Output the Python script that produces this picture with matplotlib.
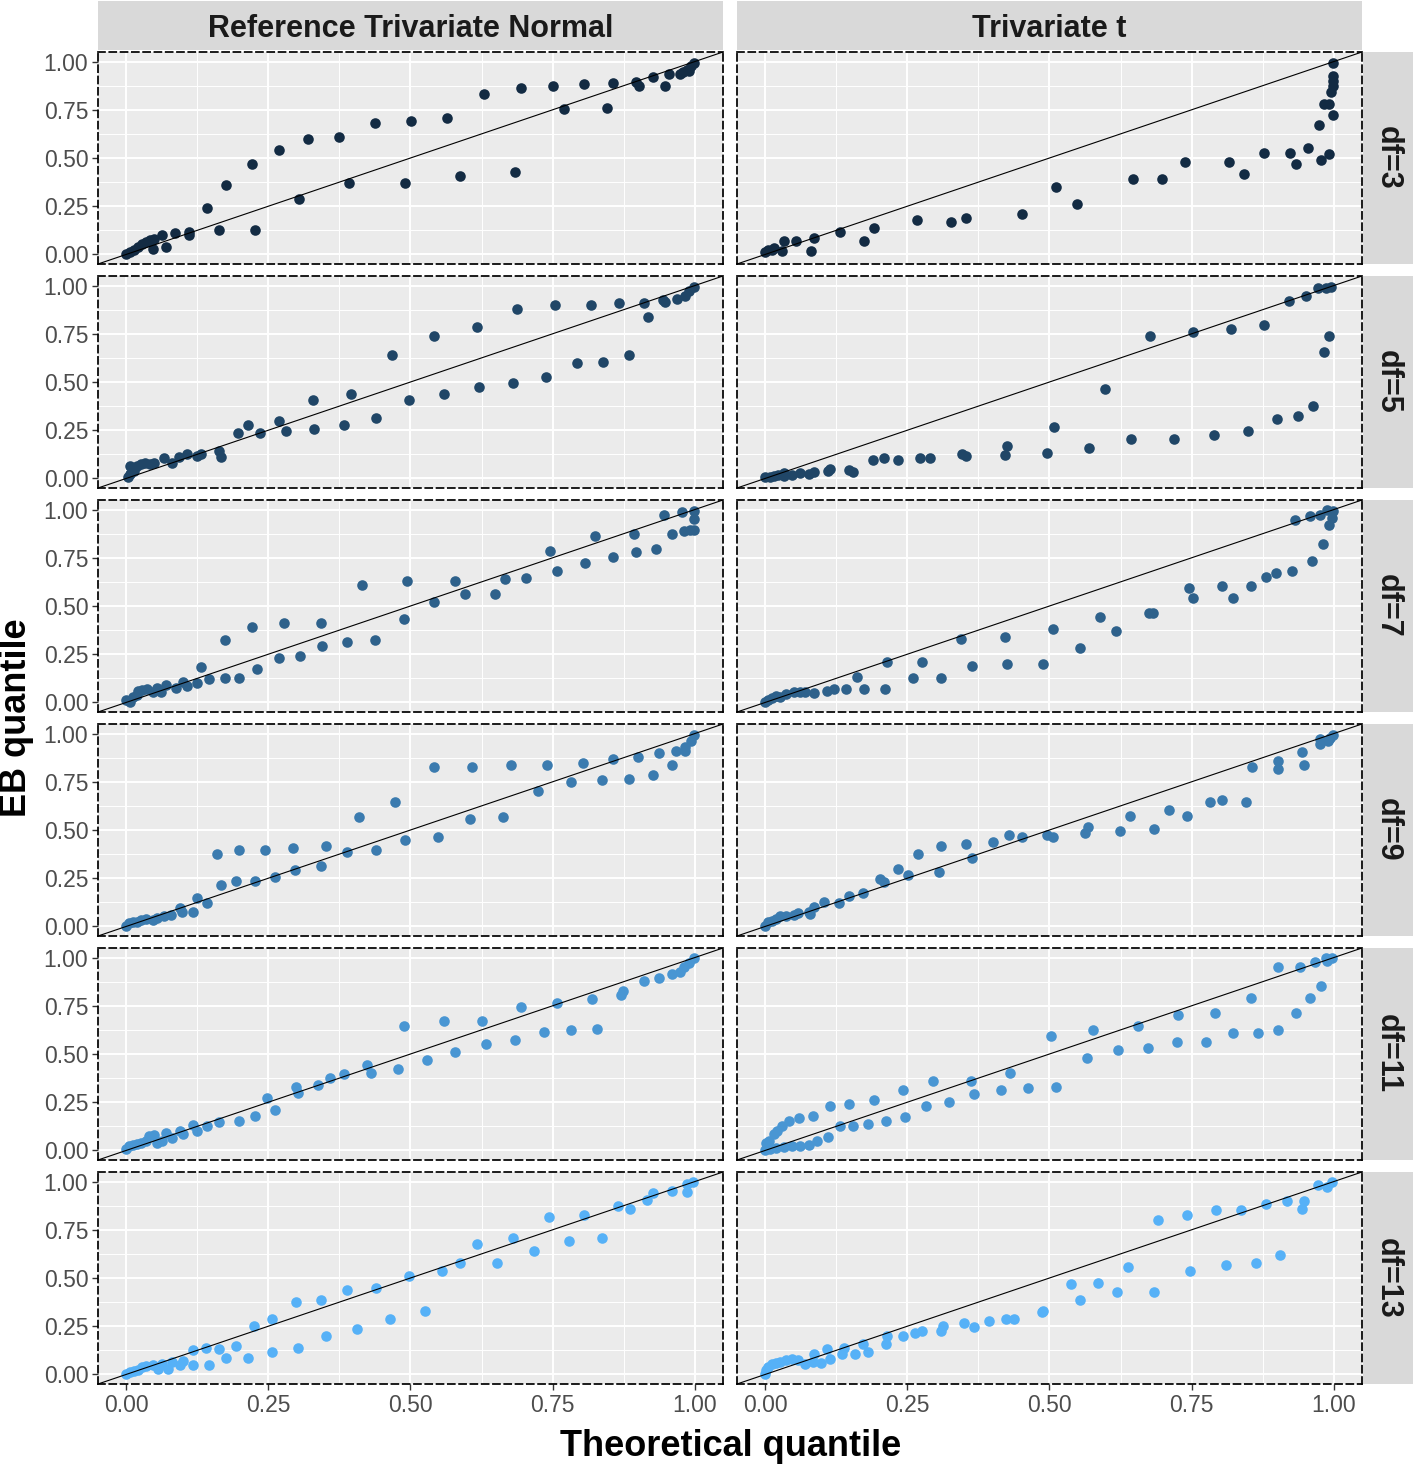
import matplotlib
matplotlib.use("Agg")
import matplotlib.pyplot as plt
from matplotlib.colors import LinearSegmentedColormap

plt.rcParams['font.family'] = ['Liberation Sans', 'DejaVu Sans']

dfs = [3, 5, 7, 9, 11, 13]
columns = ["Reference Trivariate Normal", "Trivariate t"]
ticks = [0.0, 0.25, 0.5, 0.75, 1.0]
minor_ticks = [0.125, 0.375, 0.625, 0.875]
tick_labels = ["0.00", "0.25", "0.50", "0.75", "1.00"]

# ---- Reference Trivariate Normal ----
norm3_x = [0.000, 0.007, 0.014, 0.021, 0.028, 0.035, 0.042, 0.046, 0.049, 0.063, 0.070, 0.085, 0.111, 0.111,
           0.142, 0.163, 0.175, 0.221, 0.227, 0.268, 0.304, 0.319, 0.375, 0.392, 0.437, 0.490, 0.501, 0.565,
           0.588, 0.629, 0.684, 0.694, 0.751, 0.771, 0.806, 0.846, 0.857, 0.897, 0.903, 0.927, 0.948, 0.955,
           0.975, 0.980, 0.987, 0.990, 0.994, 0.999]
norm3_y = [0.003, 0.012, 0.024, 0.038, 0.056, 0.064, 0.073, 0.026, 0.082, 0.103, 0.038, 0.111, 0.117, 0.099,
           0.239, 0.129, 0.361, 0.469, 0.129, 0.540, 0.287, 0.599, 0.610, 0.369, 0.683, 0.369, 0.692, 0.709,
           0.409, 0.831, 0.427, 0.861, 0.871, 0.753, 0.882, 0.760, 0.890, 0.892, 0.871, 0.920, 0.871, 0.934,
           0.936, 0.944, 0.958, 0.953, 0.979, 0.993]

norm5_x = [0.002, 0.007, 0.007, 0.014, 0.018, 0.025, 0.032, 0.042, 0.049, 0.067, 0.081, 0.092, 0.106, 0.125,
           0.132, 0.163, 0.166, 0.196, 0.214, 0.236, 0.268, 0.281, 0.328, 0.331, 0.383, 0.396, 0.440, 0.467,
           0.498, 0.541, 0.559, 0.617, 0.620, 0.681, 0.687, 0.738, 0.755, 0.793, 0.817, 0.839, 0.867, 0.884,
           0.911, 0.918, 0.944, 0.948, 0.969, 0.983, 0.990, 0.999]
norm5_y = [0.007, 0.021, 0.064, 0.038, 0.064, 0.077, 0.082, 0.073, 0.082, 0.105, 0.082, 0.111, 0.125, 0.117,
           0.125, 0.143, 0.111, 0.235, 0.275, 0.233, 0.300, 0.244, 0.408, 0.256, 0.275, 0.437, 0.315, 0.638,
           0.408, 0.737, 0.437, 0.787, 0.476, 0.495, 0.878, 0.526, 0.897, 0.596, 0.897, 0.606, 0.908, 0.638,
           0.908, 0.838, 0.927, 0.915, 0.932, 0.944, 0.970, 0.993]

norm7_x = [0.000, 0.007, 0.011, 0.018, 0.021, 0.028, 0.037, 0.046, 0.053, 0.060, 0.070, 0.088, 0.099, 0.106,
           0.125, 0.132, 0.146, 0.173, 0.173, 0.199, 0.221, 0.230, 0.268, 0.277, 0.305, 0.342, 0.345, 0.389,
           0.415, 0.437, 0.488, 0.494, 0.541, 0.579, 0.596, 0.649, 0.667, 0.704, 0.746, 0.758, 0.808, 0.825,
           0.856, 0.894, 0.897, 0.932, 0.946, 0.961, 0.977, 0.982, 0.992, 0.999, 0.999, 0.999]
norm7_y = [0.012, 0.003, 0.030, 0.038, 0.059, 0.064, 0.070, 0.052, 0.073, 0.056, 0.091, 0.073, 0.105, 0.087,
           0.099, 0.181, 0.120, 0.321, 0.129, 0.129, 0.392, 0.171, 0.230, 0.411, 0.242, 0.411, 0.291, 0.312,
           0.611, 0.321, 0.432, 0.632, 0.521, 0.632, 0.561, 0.563, 0.641, 0.643, 0.784, 0.683, 0.723, 0.862,
           0.753, 0.873, 0.782, 0.794, 0.972, 0.873, 0.986, 0.889, 0.894, 0.894, 0.953, 0.993]

norm9_x = [0.000, 0.004, 0.011, 0.018, 0.025, 0.035, 0.046, 0.053, 0.067, 0.078, 0.094, 0.097, 0.118, 0.125,
           0.142, 0.159, 0.166, 0.193, 0.199, 0.227, 0.244, 0.261, 0.294, 0.297, 0.342, 0.352, 0.389, 0.409,
           0.440, 0.473, 0.490, 0.541, 0.548, 0.605, 0.609, 0.663, 0.677, 0.724, 0.741, 0.782, 0.803, 0.837,
           0.856, 0.884, 0.901, 0.927, 0.937, 0.960, 0.967, 0.984, 0.984, 0.994, 0.999]
norm9_y = [0.003, 0.016, 0.021, 0.024, 0.033, 0.038, 0.033, 0.042, 0.056, 0.061, 0.096, 0.073, 0.073, 0.146,
           0.122, 0.375, 0.214, 0.235, 0.395, 0.235, 0.395, 0.254, 0.406, 0.294, 0.314, 0.415, 0.385, 0.566,
           0.395, 0.646, 0.446, 0.828, 0.465, 0.556, 0.828, 0.566, 0.838, 0.704, 0.838, 0.747, 0.848, 0.758,
           0.868, 0.767, 0.878, 0.787, 0.897, 0.838, 0.908, 0.908, 0.930, 0.962, 0.993]

norm11_x = [0.000, 0.004, 0.011, 0.018, 0.025, 0.035, 0.039, 0.049, 0.053, 0.063, 0.070, 0.081, 0.095, 0.099,
            0.118, 0.125, 0.142, 0.163, 0.198, 0.227, 0.247, 0.261, 0.298, 0.302, 0.338, 0.359, 0.383, 0.423,
            0.430, 0.478, 0.488, 0.529, 0.559, 0.579, 0.626, 0.633, 0.684, 0.694, 0.735, 0.758, 0.782, 0.819,
            0.829, 0.870, 0.874, 0.911, 0.937, 0.961, 0.975, 0.982, 0.990, 0.999]
norm11_y = [0.007, 0.021, 0.028, 0.035, 0.038, 0.047, 0.073, 0.082, 0.038, 0.051, 0.091, 0.064, 0.103, 0.085,
            0.131, 0.099, 0.125, 0.148, 0.150, 0.178, 0.272, 0.211, 0.331, 0.298, 0.340, 0.373, 0.394, 0.444,
            0.401, 0.422, 0.643, 0.470, 0.672, 0.512, 0.672, 0.552, 0.571, 0.744, 0.613, 0.765, 0.622, 0.784,
            0.632, 0.805, 0.828, 0.878, 0.892, 0.915, 0.923, 0.953, 0.970, 0.997]

norm13_x = [0.000, 0.007, 0.014, 0.021, 0.028, 0.035, 0.046, 0.056, 0.063, 0.074, 0.081, 0.095, 0.099, 0.118,
            0.118, 0.140, 0.146, 0.163, 0.176, 0.193, 0.214, 0.224, 0.257, 0.257, 0.298, 0.302, 0.342, 0.352,
            0.389, 0.406, 0.440, 0.464, 0.498, 0.525, 0.555, 0.588, 0.617, 0.653, 0.680, 0.718, 0.744, 0.779,
            0.805, 0.837, 0.866, 0.887, 0.917, 0.927, 0.961, 0.987, 0.987, 0.997]
norm13_y = [0.003, 0.012, 0.016, 0.024, 0.038, 0.042, 0.047, 0.030, 0.056, 0.026, 0.064, 0.047, 0.070, 0.125,
            0.047, 0.139, 0.047, 0.134, 0.085, 0.148, 0.085, 0.249, 0.115, 0.289, 0.376, 0.136, 0.387, 0.199,
            0.437, 0.235, 0.448, 0.289, 0.512, 0.328, 0.537, 0.577, 0.679, 0.577, 0.709, 0.639, 0.819, 0.690,
            0.829, 0.709, 0.871, 0.857, 0.906, 0.941, 0.953, 0.944, 0.988, 0.997]

# ---- Trivariate t ----
t3_x = [0.000, 0.005, 0.012, 0.016, 0.030, 0.033, 0.053, 0.081, 0.086, 0.131, 0.174, 0.191, 0.266, 0.326,
        0.353, 0.451, 0.512, 0.549, 0.647, 0.698, 0.739, 0.816, 0.843, 0.877, 0.924, 0.934, 0.955, 0.975,
        0.977, 0.992, 0.983, 0.992, 0.999, 0.996, 0.999, 0.999, 0.999, 0.999]
t3_y = [0.012, 0.021, 0.021, 0.033, 0.016, 0.070, 0.070, 0.017, 0.087, 0.117, 0.068, 0.139, 0.178, 0.167,
        0.190, 0.207, 0.348, 0.260, 0.390, 0.389, 0.479, 0.479, 0.418, 0.528, 0.528, 0.470, 0.551, 0.669,
        0.490, 0.519, 0.782, 0.782, 0.721, 0.840, 0.875, 0.901, 0.927, 0.993]

t5_x = [0.000, 0.008, 0.016, 0.023, 0.033, 0.033, 0.047, 0.061, 0.076, 0.086, 0.111, 0.113, 0.148, 0.155,
        0.189, 0.208, 0.234, 0.272, 0.290, 0.346, 0.353, 0.422, 0.425, 0.496, 0.508, 0.569, 0.597, 0.644,
        0.677, 0.719, 0.752, 0.789, 0.819, 0.850, 0.877, 0.900, 0.921, 0.938, 0.951, 0.964, 0.972, 0.984,
        0.992, 0.987, 0.996]
t5_y = [0.007, 0.007, 0.012, 0.016, 0.012, 0.030, 0.016, 0.030, 0.024, 0.035, 0.038, 0.047, 0.044, 0.033,
        0.094, 0.105, 0.094, 0.105, 0.105, 0.125, 0.115, 0.122, 0.166, 0.134, 0.265, 0.155, 0.465, 0.204,
        0.739, 0.204, 0.758, 0.225, 0.777, 0.246, 0.798, 0.307, 0.918, 0.326, 0.948, 0.375, 0.988, 0.657,
        0.739, 0.988, 0.993]

t7_x = [0.000, 0.005, 0.012, 0.019, 0.026, 0.037, 0.051, 0.061, 0.069, 0.086, 0.109, 0.120, 0.141, 0.162,
        0.174, 0.211, 0.214, 0.259, 0.275, 0.309, 0.344, 0.364, 0.421, 0.425, 0.488, 0.506, 0.553, 0.589,
        0.617, 0.676, 0.683, 0.745, 0.752, 0.803, 0.823, 0.854, 0.881, 0.898, 0.927, 0.932, 0.958, 0.962,
        0.976, 0.981, 0.989, 0.992, 0.997, 0.999]
t7_y = [0.003, 0.012, 0.024, 0.033, 0.030, 0.042, 0.056, 0.056, 0.056, 0.051, 0.061, 0.068, 0.070, 0.131,
        0.070, 0.070, 0.211, 0.129, 0.211, 0.129, 0.329, 0.190, 0.341, 0.200, 0.200, 0.382, 0.280, 0.443,
        0.369, 0.462, 0.462, 0.592, 0.544, 0.603, 0.544, 0.603, 0.652, 0.671, 0.683, 0.944, 0.965, 0.735,
        0.970, 0.822, 0.997, 0.918, 0.958, 0.993]

t9_x = [0.000, 0.005, 0.012, 0.019, 0.026, 0.037, 0.051, 0.058, 0.076, 0.079, 0.086, 0.104, 0.130, 0.148,
        0.171, 0.201, 0.208, 0.234, 0.251, 0.269, 0.306, 0.309, 0.353, 0.364, 0.401, 0.428, 0.451, 0.496,
        0.506, 0.563, 0.567, 0.624, 0.641, 0.684, 0.711, 0.742, 0.782, 0.803, 0.846, 0.857, 0.903, 0.903,
        0.944, 0.948, 0.976, 0.976, 0.990, 0.994, 0.999]
t9_y = [0.003, 0.021, 0.030, 0.038, 0.052, 0.056, 0.059, 0.068, 0.077, 0.064, 0.103, 0.125, 0.120, 0.160,
        0.171, 0.247, 0.230, 0.296, 0.268, 0.375, 0.282, 0.415, 0.425, 0.355, 0.436, 0.476, 0.465, 0.476,
        0.465, 0.486, 0.516, 0.495, 0.575, 0.505, 0.606, 0.575, 0.646, 0.657, 0.646, 0.828, 0.857, 0.814,
        0.906, 0.838, 0.944, 0.970, 0.962, 0.979, 0.993]

t11_x = [0.001, 0.007, 0.016, 0.021, 0.030, 0.042, 0.060, 0.084, 0.113, 0.148, 0.191, 0.242, 0.295, 0.361,
         0.431, 0.502, 0.577, 0.655, 0.726, 0.792, 0.854, 0.903, 0.941, 0.968, 0.987, 0.997,
         0.000, 0.008, 0.019, 0.033, 0.047, 0.061, 0.076, 0.090, 0.111, 0.131, 0.155, 0.181, 0.212, 0.246,
         0.283, 0.323, 0.367, 0.415, 0.462, 0.512, 0.566, 0.621, 0.674, 0.725, 0.776, 0.823, 0.867, 0.903,
         0.934, 0.958, 0.978, 0.988]
t11_y = [0.038, 0.051, 0.087, 0.099, 0.125, 0.152, 0.169, 0.179, 0.228, 0.239, 0.261, 0.312, 0.361, 0.361,
         0.401, 0.592, 0.622, 0.643, 0.700, 0.713, 0.793, 0.953, 0.953, 0.976, 0.997, 0.997,
         0.000, 0.007, 0.012, 0.016, 0.021, 0.024, 0.030, 0.051, 0.070, 0.125, 0.129, 0.139, 0.150, 0.171,
         0.230, 0.251, 0.291, 0.312, 0.321, 0.331, 0.481, 0.521, 0.530, 0.561, 0.561, 0.611, 0.611, 0.622,
         0.713, 0.793, 0.854, 0.983]

t13_x = [0.000, 0.001, 0.005, 0.012, 0.019, 0.026, 0.037, 0.047, 0.058, 0.069, 0.083, 0.086, 0.097, 0.109,
         0.114, 0.134, 0.139, 0.157, 0.172, 0.181, 0.212, 0.214, 0.242, 0.263, 0.275, 0.309, 0.312, 0.350,
         0.367, 0.394, 0.424, 0.438, 0.486, 0.488, 0.537, 0.554, 0.586, 0.618, 0.638, 0.684, 0.691, 0.742,
         0.748, 0.793, 0.810, 0.837, 0.864, 0.881, 0.906, 0.918, 0.944, 0.948, 0.972, 0.989, 0.997]
t13_y = [0.003, 0.021, 0.038, 0.052, 0.059, 0.064, 0.073, 0.082, 0.077, 0.056, 0.064, 0.108, 0.059, 0.131,
         0.082, 0.105, 0.139, 0.108, 0.160, 0.117, 0.155, 0.199, 0.199, 0.216, 0.225, 0.225, 0.251, 0.268,
         0.244, 0.279, 0.286, 0.286, 0.321, 0.331, 0.467, 0.387, 0.476, 0.427, 0.559, 0.427, 0.800, 0.829,
         0.538, 0.852, 0.566, 0.852, 0.577, 0.883, 0.618, 0.897, 0.857, 0.901, 0.983, 0.970, 0.997]

normal_panels = {3: (norm3_x, norm3_y), 5: (norm5_x, norm5_y), 7: (norm7_x, norm7_y),
                 9: (norm9_x, norm9_y), 11: (norm11_x, norm11_y), 13: (norm13_x, norm13_y)}
t_panels = {3: (t3_x, t3_y), 5: (t5_x, t5_y), 7: (t7_x, t7_y),
            9: (t9_x, t9_y), 11: (t11_x, t11_y), 13: (t13_x, t13_y)}
panels = [normal_panels, t_panels]

W, H = 1415, 1467
fig = plt.figure(figsize=(W / 100, H / 100), dpi=100)
cmap = LinearSegmentedColormap.from_list("gg", ["#132B43", "#56B1F7"])

col_left = [98, 737]
pw, ph = 625, 212
row_top = [52 + 224 * i for i in range(6)]

def fx(px):
    return px / W

def fy(py):
    return 1 - py / H

for r, df in enumerate(dfs):
    for c in range(2):
        ax = fig.add_axes([fx(col_left[c]), fy(row_top[r] + ph), pw / W, ph / H])
        ax.set_facecolor("#EBEBEB")
        ax.set_xlim(-0.05, 1.05)
        ax.set_ylim(-0.05, 1.05)
        ax.set_xticks(ticks)
        ax.set_yticks(ticks)
        ax.set_xticks(minor_ticks, minor=True)
        ax.set_yticks(minor_ticks, minor=True)
        ax.grid(which="major", color="white", lw=1.4)
        ax.grid(which="minor", color="white", lw=0.7)
        ax.set_axisbelow(True)

        x, y = panels[c][df]
        ax.scatter(x, y, s=58, color=cmap((df - 3) / 10), linewidths=0, zorder=3)
        ax.plot([-0.05, 1.05], [-0.05, 1.05], color="black", lw=0.8, zorder=4)

        for sp in ax.spines.values():
            sp.set_linestyle((0, (4, 2.5)))
            sp.set_color("black")
            sp.set_linewidth(1.25)

        ax.tick_params(which="minor", length=0)
        ax.tick_params(which="major", labelsize=16.5, labelcolor="#4D4D4D",
                       color="#333333", length=4, width=1, pad=3)
        if c == 0:
            ax.set_yticklabels(tick_labels)
        else:
            ax.set_yticklabels([])
            ax.tick_params(axis="y", length=0)
        if r == len(dfs) - 1:
            ax.set_xticklabels(tick_labels)
        else:
            ax.set_xticklabels([])
            ax.tick_params(axis="x", length=0)

        # right strip with df label
        if c == 1:
            sax = fig.add_axes([fx(1363), fy(row_top[r] + ph), 50 / W, ph / H])
            sax.set_facecolor("#D9D9D9")
            sax.set_xticks([])
            sax.set_yticks([])
            for sp in sax.spines.values():
                sp.set_visible(False)
            sax.text(0.5, 0.5, f"df={df}", rotation=-90, ha="center", va="center",
                     fontsize=22, fontweight="bold", color="#1A1A1A", transform=sax.transAxes)

# top strips
for c, name in enumerate(columns):
    sax = fig.add_axes([fx(col_left[c]), fy(50), pw / W, 49 / H])
    sax.set_facecolor("#D9D9D9")
    sax.set_xticks([])
    sax.set_yticks([])
    for sp in sax.spines.values():
        sp.set_visible(False)
    sax.text(0.5, 0.42, name, ha="center", va="center", fontsize=22,
             fontweight="bold", color="#1A1A1A", transform=sax.transAxes)

fig.text(fx(731), fy(1446), "Theoretical quantile", ha="center", va="center",
         fontsize=26, fontweight="bold")
fig.text(fx(17), fy(718), "EB quantile", ha="center", va="center", rotation=90,
         fontsize=26, fontweight="bold")

fig.savefig("out.png", dpi=100)
